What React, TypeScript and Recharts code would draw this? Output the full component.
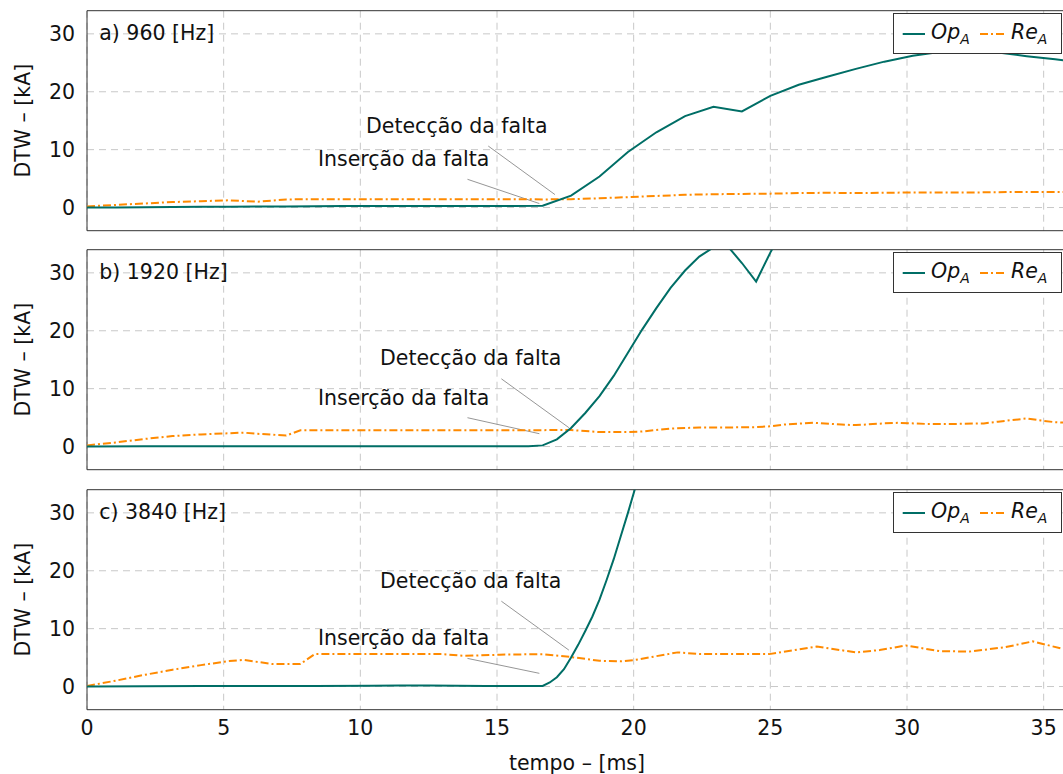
import React from "react";
import {
  CartesianGrid,
  Line,
  LineChart,
  ReferenceArea,
  ReferenceDot,
  ReferenceLine,
  XAxis,
  YAxis,
} from "recharts";

const TEAL = "#006e66";
const ORANGE = "#ff8a00";
const FONT = "'DejaVu Sans', sans-serif";
const TEXT = "#111111";
const DASH_DOT = "8 3 2 3";

const timeTicks = [0, 5, 10, 15, 20, 25, 30, 35];
const dtwTicks = [0, 10, 20, 30];

// a) 960 Hz
const tOp960 = [0, 1.04, 2.08, 3.13, 4.17, 5.21, 6.25, 7.29, 8.33, 9.38, 10.42, 11.46, 12.5, 13.54, 14.58, 15.63, 16.67, 17.71, 18.75, 19.79, 20.83, 21.88, 22.92, 23.96, 25.0, 26.04, 27.08, 28.13, 29.17, 30.21, 31.25, 32.29, 33.33, 34.38, 35.42, 36.46];
const op960 = [0, 0.02, 0.05, 0.1, 0.12, 0.15, 0.18, 0.2, 0.22, 0.25, 0.25, 0.27, 0.28, 0.28, 0.28, 0.28, 0.3, 2.05, 5.35, 9.6, 13.0, 15.8, 17.4, 16.6, 19.3, 21.2, 22.6, 23.95, 25.2, 26.2, 26.9, 27.1, 26.8, 26.15, 25.6, 25.0];
const tRe960 = [0, 1.04, 2.08, 3.13, 4.17, 5.21, 6.25, 7.29, 8.33, 9.38, 10.42, 11.46, 12.5, 13.54, 14.58, 15.63, 16.67, 17.71, 18.75, 19.79, 20.83, 21.88, 22.92, 23.96, 25.0, 26.04, 27.08, 28.13, 29.17, 30.21, 31.25, 32.29, 33.33, 34.38, 35.42, 36.46];
const re960 = [0.2, 0.45, 0.7, 0.95, 1.1, 1.25, 1.0, 1.4, 1.45, 1.45, 1.45, 1.45, 1.45, 1.45, 1.45, 1.45, 1.4, 1.45, 1.6, 1.8, 2.0, 2.2, 2.3, 2.35, 2.4, 2.5, 2.55, 2.5, 2.55, 2.6, 2.6, 2.6, 2.65, 2.7, 2.7, 2.7];

// b) 1920 Hz
const tOp1920 = [0, 2.08, 4.17, 6.25, 8.33, 10.42, 12.5, 14.58, 16.15, 16.67, 17.19, 17.71, 18.23, 18.75, 19.27, 19.79, 20.31, 20.83, 21.35, 21.88, 22.4, 22.92, 23.44, 23.96, 24.48, 25.0, 25.52];
const op1920 = [0, 0.05, 0.05, 0.05, 0.05, 0.05, 0.05, 0.05, 0.05, 0.2, 1.25, 3.2, 5.8, 8.7, 12.2, 16.2, 20.2, 23.9, 27.4, 30.4, 32.8, 34.4, 34.6, 31.7, 28.5, 33.5, 38.0];
const tRe1920 = [0, 1.04, 2.08, 3.13, 4.17, 5.21, 5.73, 6.25, 7.29, 7.81, 9.38, 10.94, 12.5, 14.06, 15.63, 17.19, 17.71, 18.75, 19.79, 20.31, 21.35, 22.4, 23.44, 24.48, 25.0, 25.52, 26.56, 27.6, 28.13, 29.17, 29.69, 30.73, 31.77, 32.81, 33.33, 34.38, 34.9, 35.42, 36.46];
const re1920 = [0.2, 0.7, 1.3, 1.8, 2.1, 2.3, 2.4, 2.2, 1.9, 2.8, 2.8, 2.8, 2.8, 2.8, 2.8, 2.85, 2.85, 2.5, 2.5, 2.6, 3.1, 3.3, 3.3, 3.35, 3.5, 3.8, 4.1, 3.8, 3.7, 4.0, 4.1, 3.9, 3.9, 4.0, 4.3, 4.85, 4.5, 4.2, 4.0];

// c) 3840 Hz
const tOp3840 = [0, 2.08, 4.17, 6.25, 8.33, 10.42, 11.46, 12.5, 14.58, 16.15, 16.67, 16.93, 17.19, 17.45, 17.71, 17.97, 18.23, 18.49, 18.75, 19.01, 19.27, 19.53, 19.79, 20.05, 20.31];
const op3840 = [0, 0.05, 0.1, 0.1, 0.1, 0.15, 0.2, 0.2, 0.1, 0.1, 0.1, 0.7, 1.6, 3.0, 5.0, 7.2, 9.6, 12.1, 15.0, 18.4, 22.0, 26.0, 30.0, 34.2, 38.5];
const tRe3840 = [0, 1.04, 2.08, 3.13, 4.17, 5.21, 5.73, 6.25, 6.77, 7.81, 8.33, 9.38, 10.42, 11.46, 13.02, 13.8, 15.1, 16.67, 17.71, 18.75, 19.53, 20.05, 21.61, 22.4, 24.96, 26.7, 28.13, 29.0, 29.96, 31.2, 32.3, 33.6, 34.6, 35.7, 36.2];
const re3840 = [0.1, 1.0, 2.0, 2.9, 3.7, 4.4, 4.6, 4.25, 3.9, 3.9, 5.6, 5.6, 5.6, 5.6, 5.6, 5.3, 5.5, 5.6, 5.1, 4.45, 4.35, 4.6, 5.9, 5.6, 5.6, 6.9, 5.9, 6.3, 7.1, 6.1, 6.05, 6.8, 7.8, 6.5, 6.2];

type Pt = { t: number; v: number };
const zip = (t: number[], v: number[]): Pt[] => t.map((x, i) => ({ t: x, v: v[i] }));

const panels = [
  {
    tag: "a) 960 [Hz]",
    op: zip(tOp960, op960),
    re: zip(tRe960, re960),
    detText: { x: 10.21, y: 12.86 },
    detLine: [{ x: 14.68, y: 10.62 }, { x: 17.12, y: 2.24 }],
    insText: { x: 8.45, y: 7.17 },
    insLine: [{ x: 13.92, y: 4.88 }, { x: 16.55, y: 0.69 }],
  },
  {
    tag: "b) 1920 [Hz]",
    op: zip(tOp1920, op1920),
    re: zip(tRe1920, re1920),
    detText: { x: 10.72, y: 14.0 },
    detLine: [{ x: 15.16, y: 11.7 }, { x: 17.63, y: 3.26 }],
    insText: { x: 8.45, y: 7.16 },
    insLine: [{ x: 13.92, y: 4.98 }, { x: 16.55, y: 2.22 }],
  },
  {
    tag: "c) 3840 [Hz]",
    op: zip(tOp3840, op3840),
    re: zip(tRe3840, re3840),
    detText: { x: 10.72, y: 17.05 },
    detLine: [{ x: 15.16, y: 14.74 }, { x: 17.63, y: 6.29 }],
    insText: { x: 8.45, y: 7.16 },
    insLine: [{ x: 13.92, y: 4.86 }, { x: 16.55, y: 2.28 }],
  },
];

function NoteText(props: any) {
  const { viewBox, text } = props;
  if (!viewBox) return null;
  return (
    <text x={viewBox.x} y={viewBox.y} fontSize={20.5} fontFamily={FONT} fill={TEXT}>
      {text}
    </text>
  );
}

function YLabel(props: any) {
  const { viewBox } = props;
  if (!viewBox) return null;
  const cy = viewBox.y + viewBox.height / 2;
  return (
    <text
      x={30}
      y={cy}
      transform={`rotate(-90, 30, ${cy})`}
      textAnchor="middle"
      fontSize={20.5}
      fontFamily={FONT}
      fill={TEXT}
    >
      DTW – [kA]
    </text>
  );
}

function XLabel(props: any) {
  const { viewBox } = props;
  if (!viewBox) return null;
  return (
    <text
      x={viewBox.x + viewBox.width / 2 - 2}
      y={viewBox.y + 60.5}
      textAnchor="middle"
      fontSize={20.5}
      fontFamily={FONT}
      fill={TEXT}
    >
      tempo – [ms]
    </text>
  );
}

function LegendBox() {
  return (
    <div
      style={{
        position: "absolute",
        left: 893,
        top: 13,
        width: 169,
        height: 41,
        boxSizing: "border-box",
        border: "1px solid #333",
        background: "#fff",
      }}
    >
      <svg width={167} height={39} style={{ display: "block" }}>
        <line x1={8.7} x2={31} y1={20} y2={20} stroke={TEAL} strokeWidth={2} />
        <text x={37} y={24.5} fontSize={20.5} fontStyle="italic" fontFamily={FONT} fill={TEXT}>
          Op
          <tspan fontSize={14} dy={5}>A</tspan>
        </text>
        <line x1={86} x2={110} y1={20} y2={20} stroke={ORANGE} strokeWidth={2} strokeDasharray={DASH_DOT} />
        <text x={117} y={24.5} fontSize={20.5} fontStyle="italic" fontFamily={FONT} fill={TEXT}>
          Re
          <tspan fontSize={14} dy={5}>A</tspan>
        </text>
      </svg>
    </div>
  );
}

function Panel({ p, top, last }: { p: (typeof panels)[number]; top: number; last: boolean }) {
  const height = last ? 296 : 240;
  return (
    <div style={{ position: "absolute", left: 0, top, width: 1080, height }}>
      <LineChart
        width={1080}
        height={height}
        margin={{ top: 10.7, right: 9, left: 0, bottom: last ? 0 : 9.3 }}
      >
        <CartesianGrid
          stroke="#c8c8c8"
          strokeDasharray="7 5"
          horizontalValues={dtwTicks}
          verticalValues={timeTicks}
        />
        <XAxis
          dataKey="t"
          type="number"
          domain={[0, 36]}
          ticks={timeTicks}
          allowDataOverflow
          hide={!last}
          height={65.3}
          axisLine={false}
          tickLine={false}
          tickSize={0}
          tickMargin={11.1}
          tick={{ fontSize: 20.5, fill: TEXT, fontFamily: FONT }}
          label={<XLabel />}
        />
        <YAxis
          type="number"
          domain={[-4, 34]}
          ticks={dtwTicks}
          allowDataOverflow
          width={87}
          axisLine={false}
          tickLine={false}
          tickSize={0}
          tickMargin={12}
          tick={{ fontSize: 20.5, fill: TEXT, fontFamily: FONT }}
          label={<YLabel />}
        />
        <ReferenceArea x1={0} x2={36} y1={-4} y2={34} fill="none" stroke="#333" strokeWidth={1} />
        <ReferenceLine segment={p.detLine} stroke="#8a8a8a" strokeWidth={0.9} ifOverflow="visible" />
        <ReferenceLine segment={p.insLine} stroke="#8a8a8a" strokeWidth={0.9} ifOverflow="visible" />
        <ReferenceDot x={p.detText.x} y={p.detText.y} r={0} fill="none" stroke="none" label={<NoteText text="Detecção da falta" />} />
        <ReferenceDot x={p.insText.x} y={p.insText.y} r={0} fill="none" stroke="none" label={<NoteText text="Inserção da falta" />} />
        <ReferenceDot x={0.45} y={28.93} r={0} fill="none" stroke="none" label={<NoteText text={p.tag} />} />
        <Line
          data={p.re}
          dataKey="v"
          type="linear"
          stroke={ORANGE}
          strokeWidth={2}
          strokeDasharray={DASH_DOT}
          dot={false}
          activeDot={false}
          isAnimationActive={false}
        />
        <Line
          data={p.op}
          dataKey="v"
          type="linear"
          stroke={TEAL}
          strokeWidth={2}
          dot={false}
          activeDot={false}
          isAnimationActive={false}
        />
      </LineChart>
      <LegendBox />
    </div>
  );
}

export default function App() {
  return (
    <div
      style={{
        position: "fixed",
        left: 0,
        top: 0,
        width: 1063,
        height: 774,
        overflow: "hidden",
        background: "#fff",
        fontFamily: FONT,
      }}
    >
      {panels.map((p, i) => (
        <Panel key={p.tag} p={p} top={i * 239.3} last={i === panels.length - 1} />
      ))}
    </div>
  );
}
